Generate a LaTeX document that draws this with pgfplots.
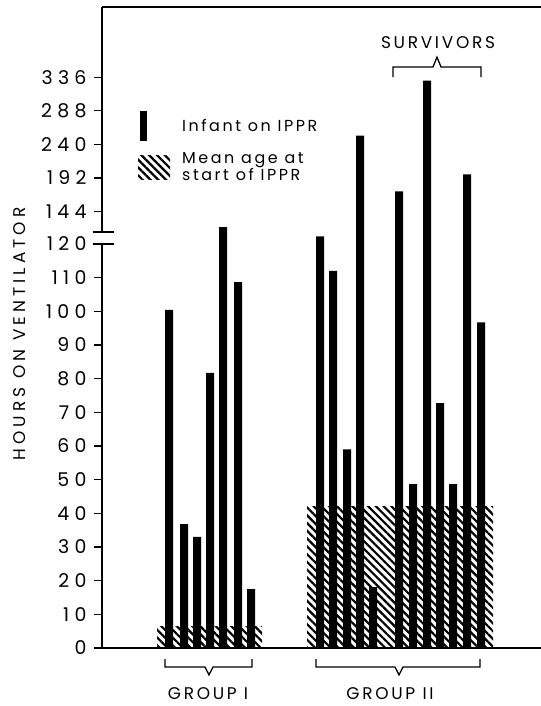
\documentclass[border=0pt]{standalone}
\usepackage{fontspec}
\setmainfont{Poppins}[LetterSpace=16]
\newfontfamily\tickfont{Poppins}[LetterSpace=28]
\newfontfamily\labfont{Poppins}[LetterSpace=24]
\usepackage{pgfplots}
\pgfplotsset{compat=1.18}
\usetikzlibrary{patterns.meta}

% Bar heights are given on the chart's (broken) display scale:
% 0-120 linear; above the break 129.6 = 144 h, 139.6 = 192 h, ... 169.4 = 336 h
\begin{document}
\begin{tikzpicture}[hatch/.style={pattern={Lines[angle=-45,distance=5.5bp,line width=2.2bp]}}]
\path[use as bounding box] (0,0) rectangle (541bp,706bp);
\begin{axis}[
 at={(102bp,58bp)}, anchor=south west,
 scale only axis, width=439bp, height=641bp,
 xmin=102, xmax=541, ymin=0, ymax=190.4,
 axis lines*=left, axis line style={line width=1.6bp, -},
 clip=false,
 xtick=\empty,
 ytick={0,10,20,30,40,50,60,70,80,90,100,110,120,129.6,139.6,149.6,159.6,169.4},
 yticklabels={0,10,20,30,40,50,60,70,80,90,100,110,120,144,192,240,288,336},
 /pgf/number format/assume math mode=true,
 tick align=outside, major tick length=8bp, tick style={line width=1.4bp, black},
 yticklabel style={font=\tickfont\fontsize{19}{19}\selectfont, xshift=-4bp},
 ylabel={HOURS ON VENTILATOR},
 ylabel style={at={(axis description cs:-0.187,0.49)}, anchor=center, font=\labfont\fontsize{17}{17}\selectfont},
 legend style={at={(axis cs:138,159.5)}, anchor=north west, draw=none, fill=none,
   inner sep=0pt, row sep=9bp, column sep=10bp, cells={align=left},
   font=\fontsize{16}{16.5}\selectfont},
 legend cell align=left, reverse legend,
]
% mean age at start of IPPR (hatched)
\addplot[draw=none, hatch, forget plot] coordinates {(157,6.5) (262,6.5)} \closedcycle;
\addplot[draw=none, hatch,
  legend image code/.code={\fill[hatch] (0bp,-12bp) rectangle (32bp,12bp);}]
  coordinates {(307,41.9) (493,41.9)} \closedcycle;
\addlegendentry{Mean age at\\start of IPPR}
% infants on IPPR
\addplot[ybar, bar width=8, bar shift=0pt, fill=black, draw=none,
  legend image code/.code={\fill[black] (2bp,-15bp) rectangle (9bp,15bp);}]
  coordinates {
  (169,100.4) (184,36.8) (197,33.0) (210,81.7) (223,125.0) (238,108.7) (251,17.5)
  (320,122.3) (333,112.0) (347,59.0) (360,152.2) (373,18.1)
  (399,135.6) (413,48.7) (427,168.5) (440,72.7) (453,48.7) (467,140.7) (481,96.7)
  };
\addlegendentry{Infant on IPPR}

\coordinate (tl) at (rel axis cs:0,1);
\coordinate (tr) at (rel axis cs:1,1);
\coordinate (w1) at (axis cs:97,120.3);
\coordinate (w2) at (axis cs:107,123.3);
\coordinate (b1a) at (axis cs:92.7,120);
\coordinate (b1b) at (axis cs:114,120);
\coordinate (b2a) at (axis cs:92.7,123.55);
\coordinate (b2b) at (axis cs:114,123.55);

% group brackets
\draw[line width=1.3bp] (axis cs:165,-3.27) -- (axis cs:165,-5.64) -- (axis cs:205,-5.64)
  -- (axis cs:209,-8) -- (axis cs:213,-5.64) -- (axis cs:252,-5.64) -- (axis cs:252,-3.27);
\draw[line width=1.3bp] (axis cs:316,-3.27) -- (axis cs:316,-5.64) -- (axis cs:395,-5.64)
  -- (axis cs:399,-8) -- (axis cs:403,-5.64) -- (axis cs:480,-5.64) -- (axis cs:480,-3.27);
\node[font=\fontsize{17}{17}\selectfont, inner sep=1bp] at (axis cs:208,-13.4) {GROUP I};
\node[font=\fontsize{17}{17}\selectfont, inner sep=1bp] at (axis cs:390,-13.4) {GROUP II};
% survivors bracket
\draw[line width=1.3bp] (axis cs:393,169.6) -- (axis cs:393,172.6) -- (axis cs:433,172.6)
  -- (axis cs:437,175.5) -- (axis cs:441,172.6) -- (axis cs:481,172.6) -- (axis cs:481,169.6);
\node[font=\fontsize{17}{17}\selectfont] at (axis cs:438,179.7) {SURVIVORS};
\end{axis}
\draw[line width=1.3bp] (tl) -- (tr);
\fill[white] (w1) rectangle (w2);
\draw[line width=1.6bp] (b1a) -- (b1b);
\draw[line width=1.6bp] (b2a) -- (b2b);
\end{tikzpicture}
\end{document}
